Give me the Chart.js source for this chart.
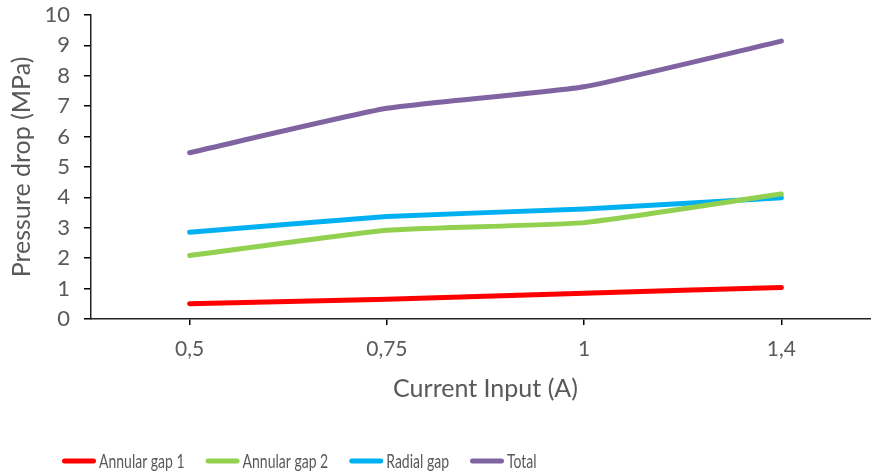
<!DOCTYPE html>
<html>
<head>
<meta charset="utf-8">
<script src="https://cdn.jsdelivr.net/npm/chart.js@4.4.1/dist/chart.umd.min.js"></script>
<style>
  html, body { margin: 0; padding: 0; background: #fff; overflow: hidden; }
  #wrap { width: 880px; height: 475px; position: relative; }
</style>
</head>
<body>
<div id="wrap"><canvas id="c"></canvas></div>
<script>
const categories = ['0,5', '0,75', '1', '1,4'];
const annularGap1 = [0.50, 0.65, 0.85, 1.04];
const annularGap2 = [2.09, 2.92, 3.17, 4.11];
const radialGap = [2.85, 3.37, 3.62, 3.99];
const total = [5.47, 6.93, 7.64, 9.14];
const seriesNames = ['Annular gap 1', 'Annular gap 2', 'Radial gap', 'Total'];
const seriesColors = ['#FF0000', '#92D050', '#00B0F0', '#8064A2'];
const seriesData = [annularGap1, annularGap2, radialGap, total];

const font = 'Lato, Carlito, "Open Sans", sans-serif';
const grey = '#595959';

// Legend drawn with horizontally condensed text, as in the reference
const condensedLegend = {
  id: 'condensedLegend',
  afterDraw(chart) {
    const ctx = chart.ctx;
    const y = 461;
    const sx = 0.7;
    let x = 62;
    ctx.save();
    ctx.font = '20px ' + font;
    ctx.textBaseline = 'middle';
    ctx.textAlign = 'left';
    chart.data.datasets.forEach(ds => {
      ctx.strokeStyle = ds.borderColor;
      ctx.lineWidth = 5;
      ctx.lineCap = 'round';
      ctx.beginPath();
      ctx.moveTo(x + 2.5, y);
      ctx.lineTo(x + 31.5, y);
      ctx.stroke();
      const tx = x + 37;
      const w = ctx.measureText(ds.label).width * sx;
      ctx.save();
      ctx.translate(tx, y + 1);
      ctx.scale(sx, 1);
      ctx.fillStyle = grey;
      ctx.fillText(ds.label, 0, 0);
      ctx.restore();
      x = tx + w + 21;
    });
    ctx.restore();
  }
};

new Chart(document.getElementById('c'), {
  type: 'line',
  data: {
    labels: categories,
    datasets: seriesData.map((d, i) => ({
      label: seriesNames[i],
      data: d,
      borderColor: seriesColors[i],
      backgroundColor: seriesColors[i],
      borderWidth: 5,
      borderCapStyle: 'round',
      borderJoinStyle: 'round',
      pointRadius: 0,
      pointHoverRadius: 0,
      tension: 0.15,
      fill: false
    }))
  },
  plugins: [condensedLegend],
  options: {
    responsive: true,
    maintainAspectRatio: false,
    animation: false,
    layout: { padding: { top: 15, left: 0, right: 0, bottom: 0 } },
    plugins: {
      tooltip: { enabled: false },
      legend: { display: false }
    },
    scales: {
      x: {
        offset: true,
        afterFit: (s) => { s.height = 156; },
        grid: { offset: false, drawOnChartArea: false, drawTicks: true, tickLength: 6, color: '#000', lineWidth: 1.5 },
        border: { display: true, color: '#222', width: 1.5 },
        ticks: { color: grey, font: { family: font, size: 21 }, padding: 12, maxRotation: 0 },
        title: { display: true, text: 'Current Input (A)', color: grey, font: { family: font, size: 25 }, padding: { top: 0, bottom: 71 } }
      },
      y: {
        min: 0, max: 10,
        afterFit: (s) => { s.width = 91; s.paddingTop = 0; s.paddingBottom = 0; },
        grid: { drawOnChartArea: false, drawTicks: true, tickLength: 7, color: '#000', lineWidth: 1.5 },
        border: { display: true, color: '#222', width: 1.5 },
        ticks: { stepSize: 1, autoSkip: false, color: grey, font: { family: font, size: 22 }, padding: 14 },
        title: { display: true, text: 'Pressure drop (MPa)', color: grey, font: { family: font, size: 25 }, padding: { top: 7, bottom: 0 } }
      }
    }
  }
});
</script>
</body>
</html>
